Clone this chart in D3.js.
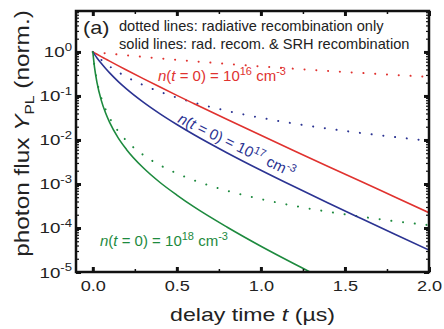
<!DOCTYPE html>
<html>
<head>
<meta charset="utf-8">
<script src="https://cdn.jsdelivr.net/npm/d3@7"></script>
<style>
  body { margin: 0; background: #fff; }
  svg { font-family: "Liberation Sans", Arial, sans-serif; }
  .axis path { display: none; }
  .axis text { fill: #222; }
</style>
</head>
<body>
<svg id="chart" width="444" height="329"></svg>
<script>
// delay time (µs)
const times = [0, 0.01, 0.025, 0.05, 0.075, 0.1, 0.15, 0.2, 0.3, 0.4, 0.5, 0.6, 0.8, 1.0, 1.2, 1.4, 1.6, 1.8, 2.0];

// dotted: radiative recombination only
const rad16 = [1, 0.991, 0.977, 0.956, 0.934, 0.914, 0.875, 0.839, 0.772, 0.713, 0.661, 0.614, 0.534, 0.469, 0.415, 0.370, 0.332, 0.299, 0.271];
const rad17 = [1, 0.914, 0.804, 0.661, 0.553, 0.469, 0.350, 0.271, 0.1765, 0.124, 0.0918, 0.0707, 0.0457, 0.0319, 0.0235, 0.0181, 0.0143, 0.0116, 0.0096];
const rad18 = [1, 0.469, 0.216, 0.0918, 0.0505, 0.0319, 0.0160, 0.0096, 0.00457, 0.00266, 0.00174, 0.00122, 0.00070, 0.000453, 0.000317, 0.000234, 0.000180, 0.000142, 0.000116];

// solid: radiative + SRH recombination
const srh16 = [1, 0.952, 0.885, 0.784, 0.696, 0.618, 0.489, 0.388, 0.247, 0.159, 0.103, 0.0673, 0.0291, 0.01275, 0.00563, 0.0025, 0.00112, 0.000499, 0.000223];
const srh17 = [1, 0.879, 0.731, 0.551, 0.425, 0.334, 0.215, 0.145, 0.0725, 0.0393, 0.0225, 0.0133, 0.00507, 0.00205, 0.000861, 0.00037, 0.000162, 0.0000713, 0.0000316];
const srh18 = [1, 0.454, 0.201, 0.0805, 0.0419, 0.0251, 0.0113, 0.0061, 0.00233, 0.00108, 0.00056, 0.000305, 0.000104, 0.0000385, 0.0000152, 0.0000062, 0.0000028, 0.0000012, 0.0000006];

const xMajor = [0, 0.5, 1.0, 1.5, 2.0];
const xMinor = [0.25, 0.75, 1.25, 1.75];
const yExponents = [0, -1, -2, -3, -4, -5];

const red = "#e0322f", blue = "#2b3392", green = "#1d8a3e";

const series = [
  {vals: rad16, color: red, dotted: true},
  {vals: rad17, color: blue, dotted: true},
  {vals: rad18, color: green, dotted: true},
  {vals: srh16, color: red, dotted: false},
  {vals: srh17, color: blue, dotted: false},
  {vals: srh18, color: green, dotted: false}
];

const L = 76, R = 429, T = 11, B = 272;
const svg = d3.select("#chart");

const x = d3.scaleLinear().domain([-0.1, 2.0]).range([L, R]);
const y = d3.scaleLog().domain([1e-5, Math.pow(10, 0.93)]).range([B, T]);

svg.append("clipPath").attr("id", "clip")
  .append("rect").attr("x", L).attr("y", T).attr("width", R - L).attr("height", B - T);

const line = d3.line()
  .x((d, i) => x(times[i]))
  .y(d => y(d))
  .curve(d3.curveMonotoneX);

const plot = svg.append("g").attr("clip-path", "url(#clip)");
series.forEach(s => {
  const p = plot.append("path")
    .attr("d", line(s.vals))
    .attr("fill", "none")
    .attr("stroke", s.color);
  if (s.dotted) {
    p.attr("stroke-width", 2).attr("stroke-linecap", "round").attr("stroke-dasharray", "0.1 11.7");
  } else {
    p.attr("stroke-width", 1.6);
  }
});

// minor log ticks
const yMinor = [];
for (let e = -5; e <= 0; e++) {
  for (let m = 2; m <= 9; m++) {
    const v = m * Math.pow(10, e);
    if (v < y.domain()[1]) yMinor.push(v);
  }
}

function ticks(axisFn, scale, vals, size, width, pos) {
  const g = svg.append("g").attr("class", "axis")
    .attr("transform", pos)
    .call(axisFn(scale).tickValues(vals).tickSize(size).tickFormat(""));
  g.selectAll(".tick line").attr("stroke", "#111").attr("stroke-width", width);
  return g;
}
ticks(d3.axisBottom, x, xMajor, -5, 3, `translate(0,${B})`);
ticks(d3.axisBottom, x, xMinor, -3, 1.5, `translate(0,${B})`);
ticks(d3.axisTop, x, xMajor, -5, 3, `translate(0,${T})`);
ticks(d3.axisTop, x, xMinor, -3, 1.5, `translate(0,${T})`);
ticks(d3.axisLeft, y, yExponents.map(e => Math.pow(10, e)), -5, 3, `translate(${L},0)`);
ticks(d3.axisLeft, y, yMinor, -3, 1.2, `translate(${L},0)`);
ticks(d3.axisRight, y, yExponents.map(e => Math.pow(10, e)), -5, 3, `translate(${R},0)`);
ticks(d3.axisRight, y, yMinor, -3, 1.2, `translate(${R},0)`);

// frame
svg.append("rect")
  .attr("x", L).attr("y", T).attr("width", R - L).attr("height", B - T)
  .attr("fill", "none").attr("stroke", "#111").attr("stroke-width", 2.5);

// axis lettering in the figure is a bit wider than Arial
const wide = 1.25;

// x tick labels
svg.append("g").attr("class", "axis")
  .attr("transform", `translate(0,${B})`)
  .call(d3.axisBottom(x).tickValues(xMajor).tickFormat(d3.format(".1f")).tickSize(0).tickPadding(9))
  .selectAll("text")
  .style("font-size", "14.5px")
  .attr("transform", `scale(${wide},1)`)
  .attr("x", d => 0);

// y tick labels as powers of ten
yExponents.forEach(e => {
  const t = svg.append("text")
    .attr("transform", `translate(72,${y(Math.pow(10, e)) + 5.5}) scale(${wide},1)`)
    .attr("text-anchor", "end")
    .style("font-size", "15px").attr("fill", "#222");
  t.append("tspan").text("10");
  t.append("tspan").attr("dy", -6.5).style("font-size", "10.5px").text(e === 0 ? "0" : "-" + (-e));
});

// axis titles
const xt = svg.append("text")
  .attr("transform", `translate(252.5,321) scale(${wide},1)`)
  .attr("text-anchor", "middle")
  .style("font-size", "18.5px").attr("fill", "#222");
xt.append("tspan").text("delay time ");
xt.append("tspan").style("font-style", "italic").text("t");
xt.append("tspan").text(" (µs)");

const yt = svg.append("text")
  .attr("transform", `translate(29,133.5) rotate(-90) scale(${wide},1)`)
  .attr("text-anchor", "middle")
  .style("font-size", "19.5px").attr("fill", "#222");
yt.append("tspan").text("photon flux ");
yt.append("tspan").style("font-style", "italic").text("Y");
yt.append("tspan").attr("dy", 5).style("font-size", "12.5px").text("PL");
yt.append("tspan").attr("dy", -5).text(" (norm.)");

// panel letter and notes
svg.append("text")
  .attr("transform", `translate(83,33.5) scale(1.2,1)`)
  .style("font-size", "18px").attr("fill", "#222").text("(a)");
svg.append("text").attr("x", 119).attr("y", 30.5)
  .style("font-size", "14.6px").attr("fill", "#222").text("dotted lines: radiative recombination only");
svg.append("text").attr("x", 119).attr("y", 49)
  .style("font-size", "14.6px").attr("fill", "#222").text("solid lines: rad. recom. & SRH recombination");

// density labels
function densityLabel(px, py, exp, color, angle) {
  const t = svg.append("text")
    .attr("transform", `translate(${px},${py}) rotate(${angle})`)
    .style("font-size", "15px").attr("fill", color);
  t.append("tspan").style("font-style", "italic").text("n");
  t.append("tspan").text("(");
  t.append("tspan").style("font-style", "italic").text("t");
  t.append("tspan").text(" = 0) = 10");
  t.append("tspan").attr("dy", -6).style("font-size", "11px").text(exp);
  t.append("tspan").attr("dy", 6).text(" cm");
  t.append("tspan").attr("dy", -6).style("font-size", "11px").text("-3");
}
densityLabel(158, 81, "16", red, 0);
densityLabel(177, 122, "17", blue, 26);
densityLabel(100, 246, "18", green, 0);
</script>
</body>
</html>
